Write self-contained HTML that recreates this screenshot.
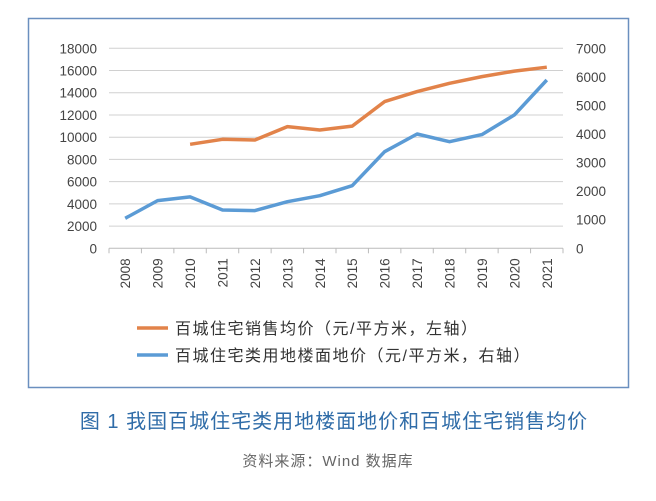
<!DOCTYPE html>
<html><head><meta charset="utf-8"><style>
body{margin:0;background:#fff;width:656px;height:496px;overflow:hidden;font-family:"Liberation Sans","Noto Sans CJK SC",sans-serif}
</style></head><body>
<svg id="c" width="656" height="496" xmlns="http://www.w3.org/2000/svg">
<rect x="28.5" y="18.5" width="600" height="369" fill="none" stroke="#6a8fbf" stroke-width="1.5"/>
<g id="grid"></g><g id="axes"></g><g id="series"></g>
<g>
<line x1="137" y1="328" x2="168" y2="328" stroke="#e2834a" stroke-width="3.5"/>
<text x="175" y="334" font-size="16" letter-spacing="1.5" fill="#333">百城住宅销售均价（元/平方米，左轴）</text>
<line x1="137" y1="355" x2="168" y2="355" stroke="#5b9bd5" stroke-width="3.5"/>
<text x="175" y="361" font-size="16" letter-spacing="1.5" fill="#333">百城住宅类用地楼面地价（元/平方米，右轴）</text>
</g>
<text x="334" y="428" text-anchor="middle" font-size="20" letter-spacing="1" fill="#2f6ca8">图 1  我国百城住宅类用地楼面地价和百城住宅销售均价</text>
<text x="328" y="466" text-anchor="middle" font-size="15" letter-spacing="1" fill="#666">资料来源：Wind 数据库</text>
</svg>
<script>
const years=["2008","2009","2010","2011","2012","2013","2014","2015","2016","2017","2018","2019","2020","2021"];
const salesPrice=[null,null,9360,9810,9750,10950,10650,11000,13200,14100,14850,15450,15950,16300];
const landPrice=[1050,1670,1800,1340,1320,1630,1840,2190,3380,4000,3730,3980,4670,5890];
const leftTicks=[0,2000,4000,6000,8000,10000,12000,14000,16000,18000];
const rightTicks=[0,1000,2000,3000,4000,5000,6000,7000];
const NS="http://www.w3.org/2000/svg";
const X0=109,X1=563,Y0=248.3,Y1=48.3;
const band=(X1-X0)/years.length;
const xs=i=>X0+band*(i+0.5);
const yl=v=>Y0-(v/18000)*(Y0-Y1);
const yr=v=>Y0-(v/7000)*(Y0-Y1);
function mk(tag,attrs,parent){const e=document.createElementNS(NS,tag);for(const k in attrs)e.setAttribute(k,attrs[k]);document.getElementById(parent).appendChild(e);return e;}
leftTicks.forEach(t=>{
 if(t>0){const g=mk('line',{x1:X0,x2:X1,y1:yl(t),y2:yl(t),stroke:'#d0d0d0','stroke-width':1},'grid');
 
 }
 const l=mk('text',{x:97,y:yl(t)+5,'text-anchor':'end','font-size':13.5,fill:'#444'},'axes');l.textContent=t;
 
 
});
rightTicks.forEach(t=>{
 const l=mk('text',{x:576,y:yr(t)+5,'font-size':13.5,fill:'#444'},'axes');l.textContent=t;
 
 
});
const ax=mk('line',{x1:X0,x2:X1,y1:Y0,y2:Y0,stroke:'#bbb','stroke-width':1},'axes');


for(let i=0;i<=years.length;i++){const tk=mk('line',{x1:X0+band*i,x2:X0+band*i,y1:Y0,y2:Y0+5,stroke:'#bbb'},'axes');
 
 }
years.forEach((y,i)=>{
 const t=mk('text',{x:0,y:0,'font-size':13.5,fill:'#444','text-anchor':'end',transform:`translate(${xs(i)+5},${Y0+10}) rotate(-90)`},'axes');t.textContent=y;
 
 
});
function path(vals,yf,color,name){
 let d='';vals.forEach((v,i)=>{if(v==null)return;d+=(d?'L':'M')+xs(i).toFixed(1)+','+yf(v).toFixed(1);});
 const p=mk('path',{d:d,fill:'none',stroke:color,'stroke-width':3.5,'stroke-linejoin':'round'},'series');
 
 
}
path(salesPrice,yl,'#e2834a','sales-price-line');
path(landPrice,yr,'#5b9bd5','land-price-line');
</script>
</body></html>
